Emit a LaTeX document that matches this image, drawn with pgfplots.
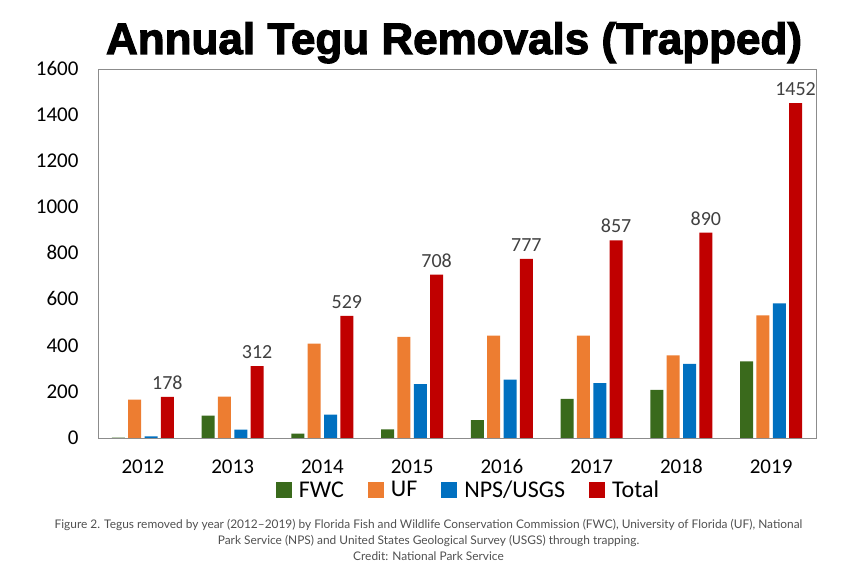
\documentclass[border=0pt]{standalone}
\usepackage{pgfplots}
\pgfplotsset{compat=1.18}
\usepackage{fontspec}
\setmainfont{Carlito}
\newfontfamily\titlefont[FakeBold=2.5]{Liberation Sans Bold}
\newfontfamily\capfont{Lato}
\definecolor{fwc}{HTML}{3A6A1C}
\definecolor{uf}{HTML}{ED7D31}
\definecolor{nps}{HTML}{0070C0}
\definecolor{tot}{HTML}{C00000}
\definecolor{axisgray}{HTML}{8C8C8C}
\definecolor{lblgray}{HTML}{404040}
\definecolor{capgray}{HTML}{505050}
\begin{document}
\begin{tikzpicture}
\begin{axis}[
  at={(0,0)}, anchor=south west,
  scale only axis, width=718pt, height=369pt,
  xmin=-0.5, xmax=7.5, ymin=0, ymax=1600,
  ytick distance=200,
  xtick={0,...,7},
  xticklabels={2012,2013,2014,2015,2016,2017,2018,2019},
  ybar=3.3pt, bar width=13pt,
  axis line style={axisgray, line width=0.8pt},
  tick style={draw=none},
  /pgf/number format/assume math mode=true,
  /pgf/number format/1000 sep={},
  typeset ticklabels with strut,
  ticklabel style={font=\fontsize{21}{24}\selectfont, text=black},
  yticklabel style={xshift=-16pt, yshift=-1.5pt},
  xticklabel style={yshift=-11pt},
  legend columns=4,
  legend style={draw=none, fill=none, at={(0.516,-0.141)}, anchor=center,
    font=\fontsize{24}{26}\selectfont,
    /tikz/every odd column/.append style={column sep=5pt},
    /tikz/every even column/.append style={column sep=22pt}},
  legend image code/.code={\fill[#1,draw=none] (0pt,-8pt) rectangle (16pt,8pt);},
]
\addplot[fill=fwc, draw=none] coordinates {(0,2) (1,97) (2,19) (3,37) (4,78) (5,170) (6,209) (7,332)};
\addplot[fill=uf, draw=none] coordinates {(0,166) (1,179) (2,409) (3,439) (4,444) (5,444) (6,358) (7,532)};
\addplot[fill=nps, draw=none] coordinates {(0,7) (1,36) (2,101) (3,234) (4,253) (5,238) (6,321) (7,584)};
\addplot[fill=tot, draw=none, nodes near coords,
  every node near coord/.append style={font=\fontsize{20}{22}\selectfont, text=lblgray, yshift=4pt}]
  coordinates {(0,178) (1,312) (2,529) (3,708) (4,777) (5,857) (6,890) (7,1452)};
\legend{FWC,UF,NPS/USGS,Total}
\end{axis}
\path (-98pt,-139pt) rectangle (759pt,438pt);
\node[anchor=base, inner sep=0pt] at (356pt,384pt) {\titlefont\fontsize{44}{48}\selectfont Annual Tegu Removals (Trapped)};
\node[anchor=base, inner sep=0pt, text=capgray] at (330.5pt,-91pt) {\capfont\fontsize{11.9}{13}\selectfont Figure 2. Tegus removed by year (2012–2019) by Florida Fish and Wildlife Conservation Commission (FWC), University of Florida (UF), National};
\node[anchor=base, inner sep=0pt, text=capgray] at (330.5pt,-107pt) {\capfont\fontsize{11.9}{13}\selectfont Park Service (NPS) and United States Geological Survey (USGS) through trapping.};
\node[anchor=base, inner sep=0pt, text=capgray] at (330.5pt,-123pt) {\capfont\fontsize{11.9}{13}\selectfont Credit: National Park Service};
\end{tikzpicture}
\end{document}
